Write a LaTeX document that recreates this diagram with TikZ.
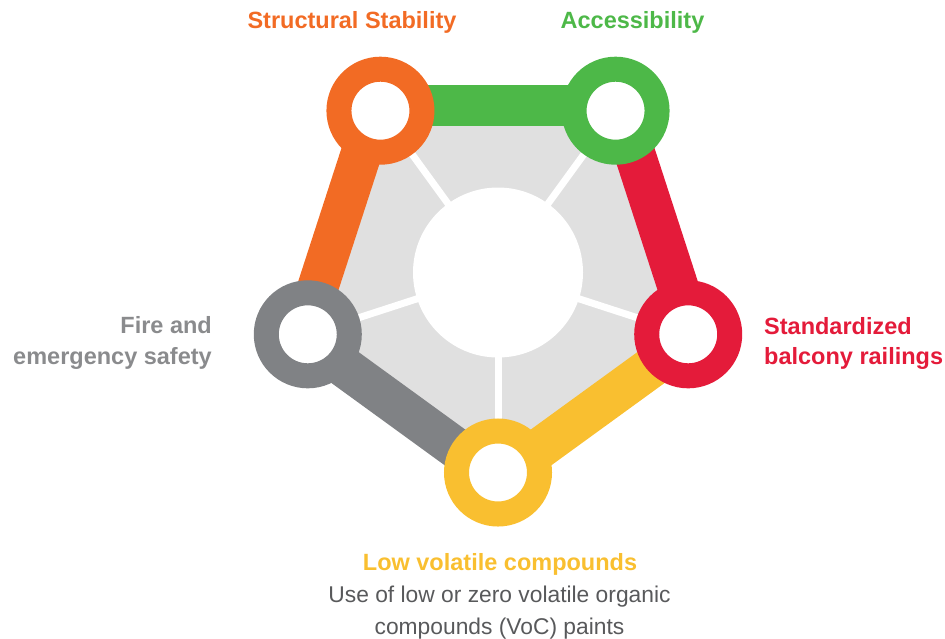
\documentclass[tikz,border=0pt]{standalone}
\usepackage{fontspec}
\setmainfont{Liberation Sans}
\usetikzlibrary{calc}
\definecolor{corange}{HTML}{F26B24}
\definecolor{cgreen}{HTML}{4DB848}
\definecolor{cred}{HTML}{E41B3A}
\definecolor{cgray}{HTML}{808285}
\definecolor{cyellow}{HTML}{F9BF30}
\definecolor{cfill}{HTML}{E0E0E0}
\definecolor{labelgray}{HTML}{8A8B8D}
\definecolor{descgray}{HTML}{58595B}
\begin{document}
\begin{tikzpicture}[x=1pt,y=1pt,
  bar/.style={line width=41pt},
  spoke/.style={draw=white,line width=7pt},
  ring/.style={circle,draw,fill=white,line width=25pt,minimum size=83pt,inner sep=0pt},
  hub/.style={circle,fill=white,minimum size=170pt,inner sep=0pt},
  title/.style={font=\fontsize{23.5}{31}\selectfont\bfseries,inner sep=0pt},
  desc/.style={font=\fontsize{22.8}{32.5}\selectfont,text=descgray,inner sep=0pt}]
\useasboundingbox (0,0) rectangle (945,-638);
\coordinate (C) at (498,-272.5);
\coordinate (vY) at ($(C)+(-90:200)$);
\coordinate (vG) at ($(C)+(198:200)$);
\coordinate (vO) at ($(C)+(126:200)$);
\coordinate (vN) at ($(C)+(54:200)$);
\coordinate (vR) at ($(C)+(-18:200)$);
% background pentagon
\fill[cfill] (vY) -- (vG) -- (vO) -- (vN) -- (vR) -- cycle;
% spokes
\foreach \v in {vY,vG,vO,vN,vR} \draw[spoke] (C) -- (\v);
% hub
\node[hub] (hub) at (C) {};
% bars (slightly offset outward)
\draw[bar,draw=corange] ($(vG)+(162:5)$) -- ($(vO)+(162:5)$);
\draw[bar,draw=cgreen] ($(vO)+(90:5)$) -- ($(vN)+(90:5)$);
\draw[bar,draw=cred] ($(vN)+(18:5)$) -- ($(vR)+(18:5)$);
\draw[bar,draw=cyellow] ($(vR)+(-54:5)$) -- ($(vY)+(-54:5)$);
\draw[bar,draw=cgray] ($(vY)+(-126:5)$) -- ($(vG)+(-126:5)$);
% rings
\node[ring,draw=corange] (ro) at (vO) {};
\node[ring,draw=cgreen] (rn) at (vN) {};
\node[ring,draw=cred] (rr) at (vR) {};
\node[ring,draw=cyellow] (ry) at (vY) {};
\node[ring,draw=cgray] (rg) at (vG) {};
% labels
\node[title,text=corange,anchor=base] (lo) at (352,-28.5) {Structural Stability};
\node[title,text=cgreen,anchor=base] (ln) at (632.5,-28.5) {Accessibility};
\node[title,text=labelgray,anchor=base east] (lg1) at (212,-333.5) {Fire and};
\node[title,text=labelgray,anchor=base east] (lg2) at (212,-364.5) {emergency safety};
\node[title,text=cred,anchor=base west] (lr1) at (764,-334) {Standardized};
\node[title,text=cred,anchor=base west] (lr2) at (764,-364.5) {balcony railings};
\node[title,text=cyellow,anchor=base] (ly) at (500,-570) {Low volatile compounds};
\node[desc,anchor=base] (d1) at (499.5,-602) {Use of low or zero volatile organic};
\node[desc,anchor=base] (d2) at (499.5,-634.5) {compounds (VoC) paints};
\end{tikzpicture}
\end{document}
